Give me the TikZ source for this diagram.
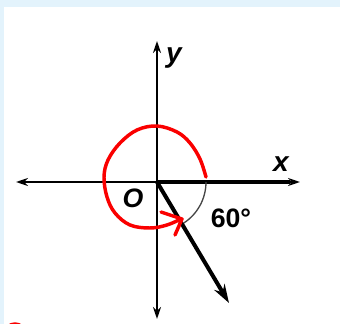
\documentclass[tikz,border=0pt]{standalone}
\usepackage{fontspec}
\setmainfont{Liberation Sans}
\usetikzlibrary{arrows.meta}
\definecolor{bgblue}{RGB}{227,243,252}
\definecolor{redpen}{RGB}{250,0,0}
\definecolor{arcgray}{RGB}{70,70,70}
\tikzset{
  axis/.style={line width=1.6pt, -{Stealth[length=9pt,width=6pt]}},
  thickray/.style={line width=3pt},
  redstroke/.style={redpen, line width=2.6pt, line cap=round, line join=round},
  lbl/.style={inner sep=0pt, font=\fontsize{20}{24}\selectfont\bfseries},
}
\begin{document}
\begin{tikzpicture}[x=0.75pt,y=-0.75pt]
\fill[bgblue] (0,0) rectangle (340,324);
\fill[white] (4,7) rectangle (340,324);
\useasboundingbox (0,0) rectangle (340,324);
% origin and named points
\coordinate (O) at (157,182);
\coordinate (xr) at (300,182);
\coordinate (xl) at (16,182);
\coordinate (yt) at (157,41);
\coordinate (yb) at (157,319);
\coordinate (rt) at (229,303);
% axes
\draw[axis] (O) -- (xr);
\draw[axis] (O) -- (xl);
\draw[axis] (O) -- (yt);
\draw[axis] (O) -- (yb);
\draw[thickray] (O) -- (290,182);
\draw[thickray, -{Stealth[length=14pt,width=9pt]}] (O) -- (rt);
% gray angle arc
\draw[arcgray, line width=1pt] (O) ++(0:49) arc[start angle=0, end angle=57, radius=49];
% labels
\node[lbl, font=\fontsize{21}{24}\selectfont\bfseries\itshape] (lx) at (281,164) {x};
\node[lbl, font=\fontsize{21}{24}\selectfont\bfseries\itshape] (ly) at (174,58) {y};
\node[lbl, font=\fontsize{20}{24}\selectfont\bfseries\itshape] (lo) at (133,198) {O};
\node[lbl] (la) at (231,218) {60\textdegree};
% red rotation curve
\draw[redstroke] plot[smooth, tension=0.6] coordinates {(206,177) (200,159) (190,143) (177,132) (157,126) (137,130) (120,143) (108,160) (104,177) (107,197) (115,213) (130,225) (150,228) (167,225) (181,219)};
\draw[redstroke] (161,212) -- (182,219) -- (175,235);
% cut-off red mark at bottom left
\begin{scope}
\clip (0,0) rectangle (340,324);
\draw[redstroke] (15,334) circle[radius=10];
\end{scope}
\end{tikzpicture}
\end{document}
